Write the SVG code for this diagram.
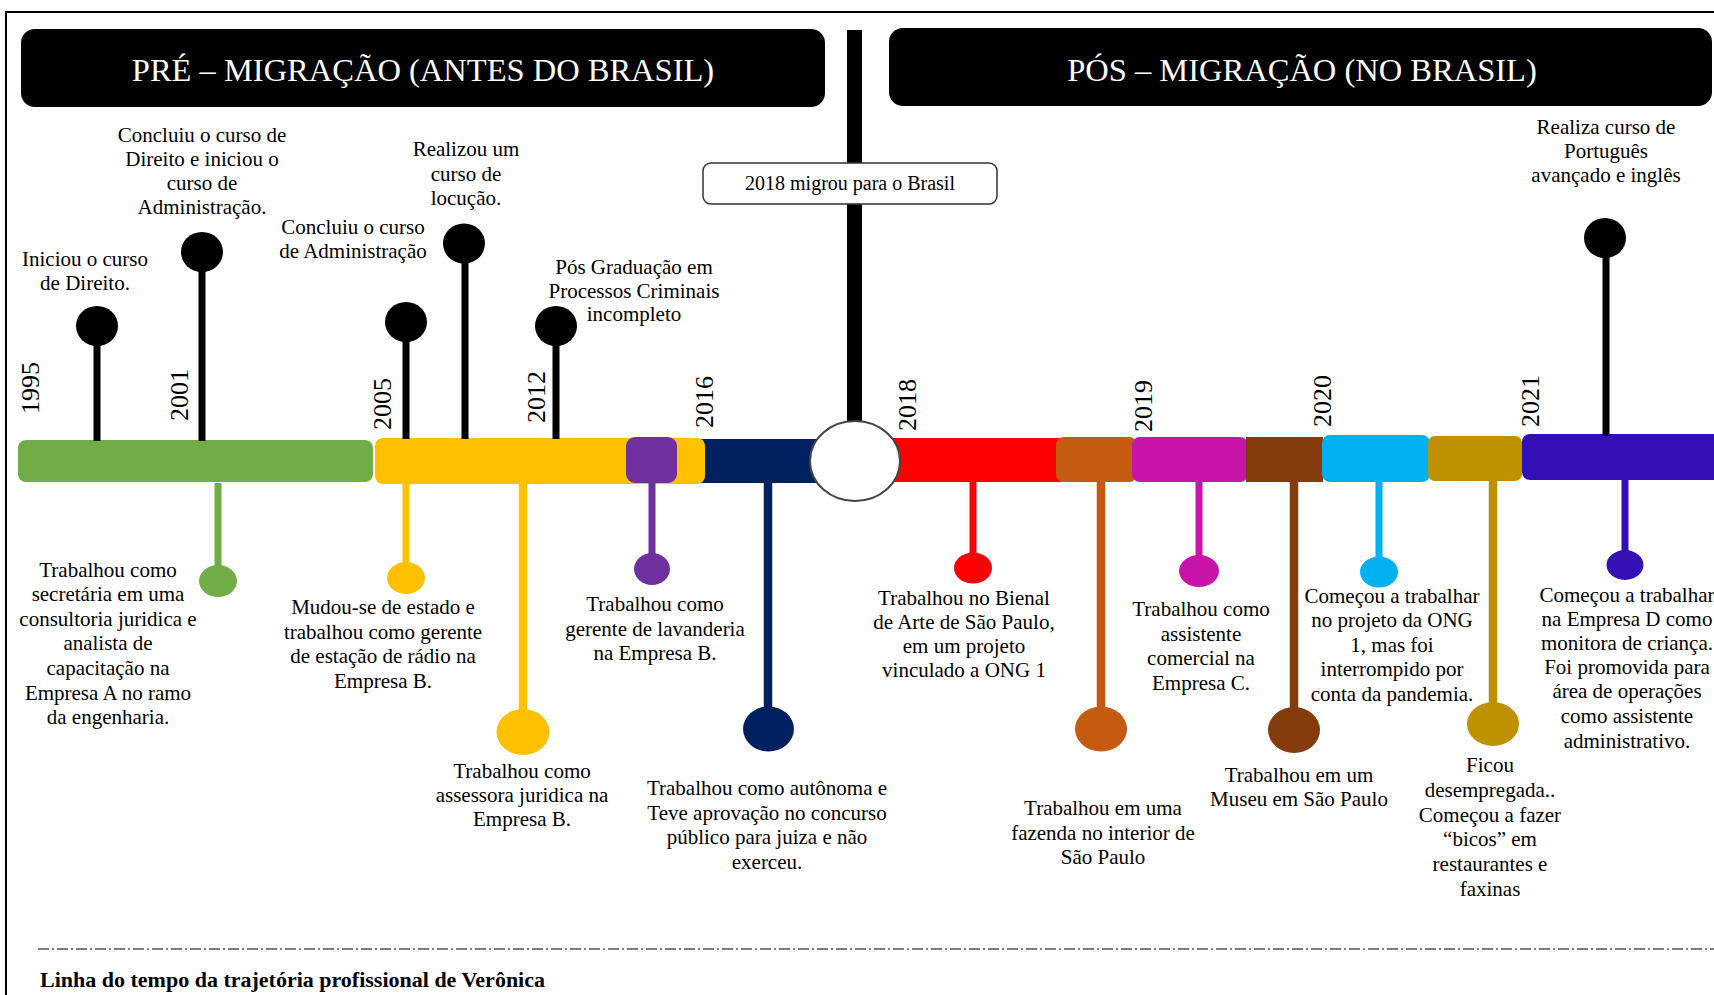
<svg xmlns="http://www.w3.org/2000/svg" width="1714" height="995" viewBox="0 0 1714 995">
  <style>
    .t { font-family: "Liberation Serif", "Times New Roman", serif; font-size: 21px; fill: #000; text-anchor: middle; }
    .yr { font-family: "Liberation Serif", "Times New Roman", serif; font-size: 26px; fill: #000; }
    .hd { font-family: "Liberation Serif", "Times New Roman", serif; font-size: 32.5px; fill: #fff; text-anchor: middle; }
    .cap { font-family: "Liberation Serif", "Times New Roman", serif; font-size: 22px; font-weight: bold; fill: #000; }
    .pin { stroke-width: 7; fill: none; }
    .pin-long { stroke-width: 8.5; fill: none; }
    .seg { stroke: none; }
  </style>

  <rect width="1714" height="995" fill="#fff"/>
  <!-- page frame -->
  <rect x="6" y="12" width="1730" height="1000" fill="none" stroke="#000" stroke-width="2"/>

  <!-- section headers -->
  <g id="header-pre">
    <rect x="21" y="29" width="804" height="78" rx="14" fill="#000"/>
    <text class="hd" x="423" y="81">PRÉ – MIGRAÇÃO (ANTES DO BRASIL)</text>
  </g>
  <g id="header-pos">
    <rect x="889" y="28" width="823" height="78" rx="14" fill="#000"/>
    <text class="hd" x="1302" y="81">PÓS – MIGRAÇÃO (NO BRASIL)</text>
  </g>

  <!-- migration divider -->
  <g id="divider">
    <rect x="847" y="30" width="15" height="396" fill="#000"/>
  </g>

  <g id="migration-box">
    <rect x="703" y="163" width="294" height="41" rx="8" fill="#fff" stroke="#333" stroke-width="1.5"/>
    <text class="t" x="850" y="190" style="font-size:20px">2018 migrou para o Brasil</text>
  </g>

  <!-- timeline bar -->
  <g id="timeline-bar">
    <rect class="seg" x="18" y="440" width="355" height="42" rx="8" fill="#70AD47"/>
    <rect class="seg" x="700" y="439" width="125" height="44" fill="#002060"/>
    <rect class="seg" x="375" y="438" width="330" height="46" rx="8" fill="#FFC000"/>
    <rect class="seg" x="626" y="437" width="51" height="46" rx="9" fill="#7030A0"/>
    <rect class="seg" x="880" y="438" width="182" height="44" fill="#FF0000"/>
    <rect class="seg" x="1056" y="437" width="81" height="45" rx="8" fill="#C55A11"/>
    <rect class="seg" x="1132" y="437" width="116" height="45" rx="8" fill="#C814A8"/>
    <rect class="seg" x="1246" y="437" width="77" height="45" fill="#843C0C"/>
    <rect class="seg" x="1322" y="435" width="108" height="47" rx="8" fill="#00B0F0"/>
    <rect class="seg" x="1428" y="436" width="94" height="45" rx="7" fill="#BF9000"/>
    <rect class="seg" x="1522" y="434" width="210" height="46" rx="8" fill="#3210B4"/>
    <ellipse cx="855" cy="461" rx="45" ry="40" fill="#fff" stroke="#444" stroke-width="2"/>
  </g>

  <!-- year marks -->
  <g id="years">
    <text class="yr" transform="translate(39 414) rotate(-90)">1995</text>
    <text class="yr" transform="translate(188 421) rotate(-90)">2001</text>
    <text class="yr" transform="translate(391 430) rotate(-90)">2005</text>
    <text class="yr" transform="translate(545 423) rotate(-90)">2012</text>
    <text class="yr" transform="translate(713 428) rotate(-90)">2016</text>
    <text class="yr" transform="translate(916 431) rotate(-90)">2018</text>
    <text class="yr" transform="translate(1152 432) rotate(-90)">2019</text>
    <text class="yr" transform="translate(1331 427) rotate(-90)">2020</text>
    <text class="yr" transform="translate(1539 427) rotate(-90)">2021</text>
  </g>

  <!-- stems joining each event to the bar -->
  <g id="connectors">
    <g stroke="#000">
      <line class="pin" x1="97" y1="326" x2="97" y2="441"/>
      <line class="pin" x1="202" y1="252" x2="202" y2="441"/>
      <line class="pin" x1="406" y1="322" x2="406" y2="439"/>
      <line class="pin" x1="465" y1="244" x2="465" y2="439"/>
      <line class="pin" x1="556" y1="326" x2="556" y2="439"/>
      <line class="pin" x1="1606" y1="238" x2="1606" y2="436"/>
    </g>
    <line class="pin" x1="218" y1="483" x2="218" y2="581" stroke="#70AD47"/>
    <line class="pin" x1="406" y1="484" x2="406" y2="578" stroke="#FFC000"/>
    <line class="pin-long" x1="523" y1="484" x2="523" y2="732" stroke="#FFC000"/>
    <line class="pin" x1="652" y1="483" x2="652" y2="569" stroke="#7030A0"/>
    <line class="pin-long" x1="768" y1="483" x2="768" y2="729" stroke="#002060"/>
    <line class="pin" x1="973" y1="482" x2="973" y2="568" stroke="#FF0000"/>
    <line class="pin-long" x1="1101" y1="482" x2="1101" y2="729" stroke="#C55A11"/>
    <line class="pin" x1="1199" y1="482" x2="1199" y2="571" stroke="#C814A8"/>
    <line class="pin-long" x1="1294" y1="482" x2="1294" y2="730" stroke="#843C0C"/>
    <line class="pin" x1="1379" y1="482" x2="1379" y2="572" stroke="#00B0F0"/>
    <line class="pin-long" x1="1493" y1="481" x2="1493" y2="724" stroke="#BF9000"/>
    <line class="pin" x1="1625" y1="480" x2="1625" y2="565" stroke="#3210B4"/>
  </g>

  <!-- events above the bar -->
  <g id="ev-1995">
    <ellipse cx="97" cy="326" rx="21" ry="20" fill="#000"/>
    <text class="t"><tspan x="85" y="266">Iniciou o curso</tspan><tspan x="85" y="290">de Direito.</tspan></text>
  </g>
  <g id="ev-2001">
    <ellipse cx="202" cy="252" rx="21" ry="20" fill="#000"/>
    <text class="t"><tspan x="202" y="142">Concluiu o curso de</tspan><tspan x="202" y="166">Direito e iniciou o</tspan><tspan x="202" y="190">curso de</tspan><tspan x="202" y="213.5">Administração.</tspan></text>
  </g>
  <g id="ev-2005">
    <ellipse cx="406" cy="322" rx="21" ry="20" fill="#000"/>
    <text class="t"><tspan x="353" y="234">Concluiu o curso</tspan><tspan x="353" y="258">de Administração</tspan></text>
  </g>
  <g id="ev-locucao">
    <ellipse cx="464" cy="243.5" rx="21" ry="20" fill="#000"/>
    <text class="t"><tspan x="466" y="156">Realizou um</tspan><tspan x="466" y="180.5">curso de</tspan><tspan x="466" y="205">locução.</tspan></text>
  </g>
  <g id="ev-2012">
    <ellipse cx="556" cy="326" rx="21" ry="20" fill="#000"/>
    <text class="t"><tspan x="634" y="274">Pós Graduação em</tspan><tspan x="634" y="298">Processos Criminais</tspan><tspan x="634" y="321">incompleto</tspan></text>
  </g>
  <g id="ev-2021-curso">
    <ellipse cx="1605" cy="238" rx="21" ry="20" fill="#000"/>
    <text class="t"><tspan x="1606" y="134">Realiza curso de</tspan><tspan x="1606" y="158">Português</tspan><tspan x="1606" y="182">avançado e inglês</tspan></text>
  </g>

  <!-- events below the bar -->
  <g id="job-empresa-a">
    <ellipse cx="218" cy="581" rx="19" ry="16" fill="#70AD47"/>
    <text class="t"><tspan x="108" y="577">Trabalhou como</tspan><tspan x="108" y="601">secretária em uma</tspan><tspan x="108" y="626">consultoria juridica e</tspan><tspan x="108" y="650">analista de</tspan><tspan x="108" y="675">capacitação na</tspan><tspan x="108" y="700">Empresa A no ramo</tspan><tspan x="108" y="724">da engenharia.</tspan></text>
  </g>
  <g id="job-radio">
    <ellipse cx="406" cy="578" rx="19" ry="16" fill="#FFC000"/>
    <text class="t"><tspan x="383" y="614">Mudou-se de estado e</tspan><tspan x="383" y="638.5">trabalhou como gerente</tspan><tspan x="383" y="663">de estação de rádio na</tspan><tspan x="383" y="687.5">Empresa B.</tspan></text>
  </g>
  <g id="job-assessora">
    <ellipse cx="523" cy="732" rx="26.5" ry="23" fill="#FFC000"/>
    <text class="t"><tspan x="522" y="778">Trabalhou como</tspan><tspan x="522" y="802">assessora juridica na</tspan><tspan x="522" y="826">Empresa B.</tspan></text>
  </g>
  <g id="job-lavanderia">
    <ellipse cx="652" cy="569" rx="18" ry="16" fill="#7030A0"/>
    <text class="t"><tspan x="655" y="611">Trabalhou como</tspan><tspan x="655" y="635.5">gerente de lavanderia</tspan><tspan x="655" y="660">na Empresa B.</tspan></text>
  </g>
  <g id="job-autonoma">
    <ellipse cx="768.5" cy="729" rx="25.5" ry="22.5" fill="#002060"/>
    <text class="t"><tspan x="767" y="795">Trabalhou como autônoma e</tspan><tspan x="767" y="819.5">Teve aprovação no concurso</tspan><tspan x="767" y="844">público para juiza e não</tspan><tspan x="767" y="868.5">exerceu.</tspan></text>
  </g>
  <g id="job-bienal">
    <ellipse cx="973" cy="568" rx="19" ry="15.5" fill="#FF0000"/>
    <text class="t"><tspan x="964" y="605">Trabalhou no Bienal</tspan><tspan x="964" y="629">de Arte de São Paulo,</tspan><tspan x="964" y="653">em um projeto</tspan><tspan x="964" y="677">vinculado a ONG 1</tspan></text>
  </g>
  <g id="job-fazenda">
    <ellipse cx="1101" cy="729" rx="26" ry="22.5" fill="#C55A11"/>
    <text class="t"><tspan x="1103" y="815">Trabalhou em uma</tspan><tspan x="1103" y="839.5">fazenda no interior de</tspan><tspan x="1103" y="864">São Paulo</tspan></text>
  </g>
  <g id="job-empresa-c">
    <ellipse cx="1199" cy="571" rx="20" ry="16" fill="#C814A8"/>
    <text class="t"><tspan x="1201" y="616">Trabalhou como</tspan><tspan x="1201" y="640.5">assistente</tspan><tspan x="1201" y="665">comercial na</tspan><tspan x="1201" y="689.5">Empresa C.</tspan></text>
  </g>
  <g id="job-museu">
    <ellipse cx="1294" cy="730" rx="26" ry="23" fill="#843C0C"/>
    <text class="t"><tspan x="1299" y="782">Trabalhou em um</tspan><tspan x="1299" y="806">Museu em São Paulo</tspan></text>
  </g>
  <g id="job-ong">
    <ellipse cx="1379" cy="572" rx="19" ry="15.5" fill="#00B0F0"/>
    <text class="t"><tspan x="1392" y="602.5">Começou a trabalhar</tspan><tspan x="1392" y="627">no projeto da ONG</tspan><tspan x="1392" y="651.5">1, mas foi</tspan><tspan x="1392" y="676">interrompido por</tspan><tspan x="1392" y="700.5">conta da pandemia.</tspan></text>
  </g>
  <g id="job-bicos">
    <ellipse cx="1493" cy="724" rx="26" ry="22" fill="#BF9000"/>
    <text class="t"><tspan x="1490" y="772">Ficou</tspan><tspan x="1490" y="797">desempregada..</tspan><tspan x="1490" y="821.5">Começou a fazer</tspan><tspan x="1490" y="846">“bicos” em</tspan><tspan x="1490" y="870.5">restaurantes e</tspan><tspan x="1490" y="895.5">faxinas</tspan></text>
  </g>
  <g id="job-empresa-d">
    <ellipse cx="1625" cy="565" rx="18.5" ry="15" fill="#3210B4"/>
    <text class="t"><tspan x="1627" y="601.5">Começou a trabalhar</tspan><tspan x="1627" y="625.5">na Empresa D como</tspan><tspan x="1627" y="649.5">monitora de criança.</tspan><tspan x="1627" y="673.5">Foi promovida para</tspan><tspan x="1627" y="698">área de operações</tspan><tspan x="1627" y="723">como assistente</tspan><tspan x="1627" y="748">administrativo.</tspan></text>
  </g>

  <!-- caption -->
  <g id="caption">
    <line x1="38" y1="949" x2="1714" y2="949" stroke="#7f7f7f" stroke-width="2" stroke-dasharray="11 3 2 3"/>
    <text class="cap" x="40" y="987">Linha do tempo da trajetória profissional de Verônica</text>
  </g>
</svg>
